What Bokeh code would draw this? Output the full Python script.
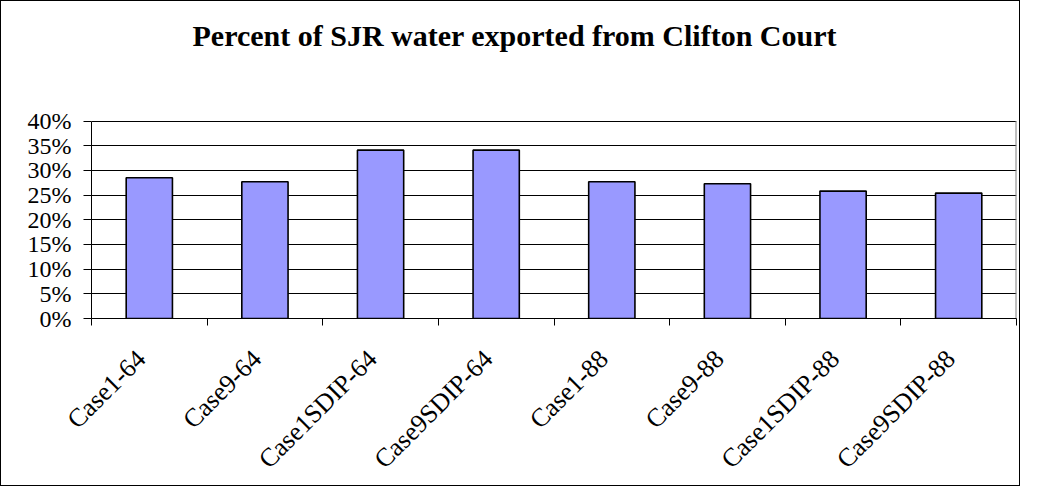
import math
from bokeh.plotting import figure
from bokeh.models import FixedTicker, PrintfTickFormatter, Range1d, ColumnDataSource, Label
from bokeh.embed import file_html
from bokeh.resources import INLINE

categories = ["Case1-64", "Case9-64", "Case1SDIP-64", "Case9SDIP-64",
              "Case1-88", "Case9-88", "Case1SDIP-88", "Case9SDIP-88"]
percent_exported = [28.5, 27.7, 34.1, 34.1, 27.7, 27.3, 25.8, 25.4]
y_ticks = [0, 5, 10, 15, 20, 25, 30, 35, 40]
title_text = "Percent of SJR water exported from Clifton Court"

n = len(categories)
y_max = y_ticks[-1]
centers = [i + 0.5 for i in range(n)]
label_pos = [i + 0.43 for i in range(n)]
boundaries = list(range(n + 1))
src = ColumnDataSource(dict(x=centers, top=percent_exported))

SERIF = "Liberation Serif"

# canvas / layout (pixels)
W, H = 1020, 486
ML, MR, MT, MB = 90, 5, 10, 162
PLOT_TOP = 122          # pixel row of the 40% line inside the canvas
frame_h = H - MT - MB   # full frame height (includes title area)
grid_h = H - MB - PLOT_TOP
y_end = y_max * frame_h / grid_h

p = figure(width=W, height=H, x_range=Range1d(0, n), y_range=Range1d(0, y_end),
           output_backend="svg", toolbar_location=None,
           min_border_left=ML, min_border_right=MR, min_border_top=MT, min_border_bottom=MB)
p.styles = {"border": "1px solid #000000"}
p.background_fill_color = "white"
p.border_fill_color = "white"
p.outline_line_color = None

# plot-area right edge (grey, like the reference's plot-area border)
p.segment(x0=[n], y0=[0], x1=[n], y1=[y_max], line_color="#808080", line_width=2)

p.vbar(x="x", top="top", bottom=0, width=0.4, source=src,
       fill_color="#9999FF", line_color="black", line_width=1.6)

# title
title = Label(x=101, y=(H - MB) - 41, x_units="screen", y_units="screen",
              text=title_text, text_align="left", text_baseline="middle",
              text_font=SERIF, text_font_size="30px", text_font_style="bold",
              text_color="black")
p.add_layout(title)

# y axis
ya = p.yaxis[0]
ya.bounds = (0, y_max)
ya.ticker = FixedTicker(ticks=y_ticks, minor_ticks=[])
ya.formatter = PrintfTickFormatter(format="%d%%")
ya.major_label_text_font = SERIF
ya.major_label_text_font_size = "24px"
ya.major_label_text_color = "black"
ya.axis_line_color = "black"
ya.major_tick_line_color = "black"
ya.major_tick_out = 8
ya.major_tick_in = 0
ya.minor_tick_line_color = None
ya.major_label_standoff = 12

p.ygrid.ticker = FixedTicker(ticks=y_ticks, minor_ticks=[])
p.ygrid.grid_line_color = "black"
p.ygrid.grid_line_width = 1
p.xgrid.visible = False

# x axis: tick marks at category boundaries (minor), rotated labels (major)
xa = p.xaxis[0]
xa.ticker = FixedTicker(ticks=label_pos, minor_ticks=boundaries)
xa.major_label_overrides = {pos: lab for pos, lab in zip(label_pos, categories)}
xa.major_label_orientation = math.pi / 4
xa.major_label_text_font = SERIF
xa.major_label_text_font_size = "26px"
xa.major_label_text_color = "black"
xa.major_label_standoff = 29
xa.axis_line_color = "black"
xa.major_tick_line_color = None
xa.major_tick_out = 0
xa.major_tick_in = 0
xa.minor_tick_line_color = "black"
xa.minor_tick_out = 7
xa.minor_tick_in = 0

open("out.html", "w").write(file_html(p, INLINE))
